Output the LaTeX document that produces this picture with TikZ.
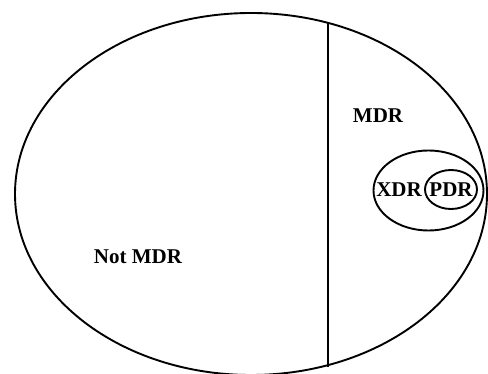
\documentclass[tikz,border=0pt]{standalone}
\usepackage{fontspec}
\setmainfont{Liberation Serif}
\usetikzlibrary{shapes.geometric}
\begin{document}
\begin{tikzpicture}[x=1pt,y=-1pt,
  outline/.style={draw=black,line width=1.9pt},
  lbl/.style={font=\fontsize{21}{24}\selectfont\bfseries,inner sep=0pt}]
\useasboundingbox (0,0) rectangle (488,374);
\draw[outline] (251,194) ellipse [x radius=236, y radius=181];
\coordinate (ltop) at (328,22);
\coordinate (lbot) at (328,367);
\draw[outline] (ltop) -- (lbot);
\draw[outline] (428.5,190.5) ellipse [x radius=55, y radius=40];
\draw[outline] (451,189.5) ellipse [x radius=26, y radius=19.5];
\node[lbl] (mdr) at (378,116) {MDR};
\node[lbl] (xdr) at (399,190) {XDR};
\node[lbl] (pdr) at (451,190) {PDR};
\node[lbl] (notmdr) at (138,257) {Not MDR};
\end{tikzpicture}
\end{document}
